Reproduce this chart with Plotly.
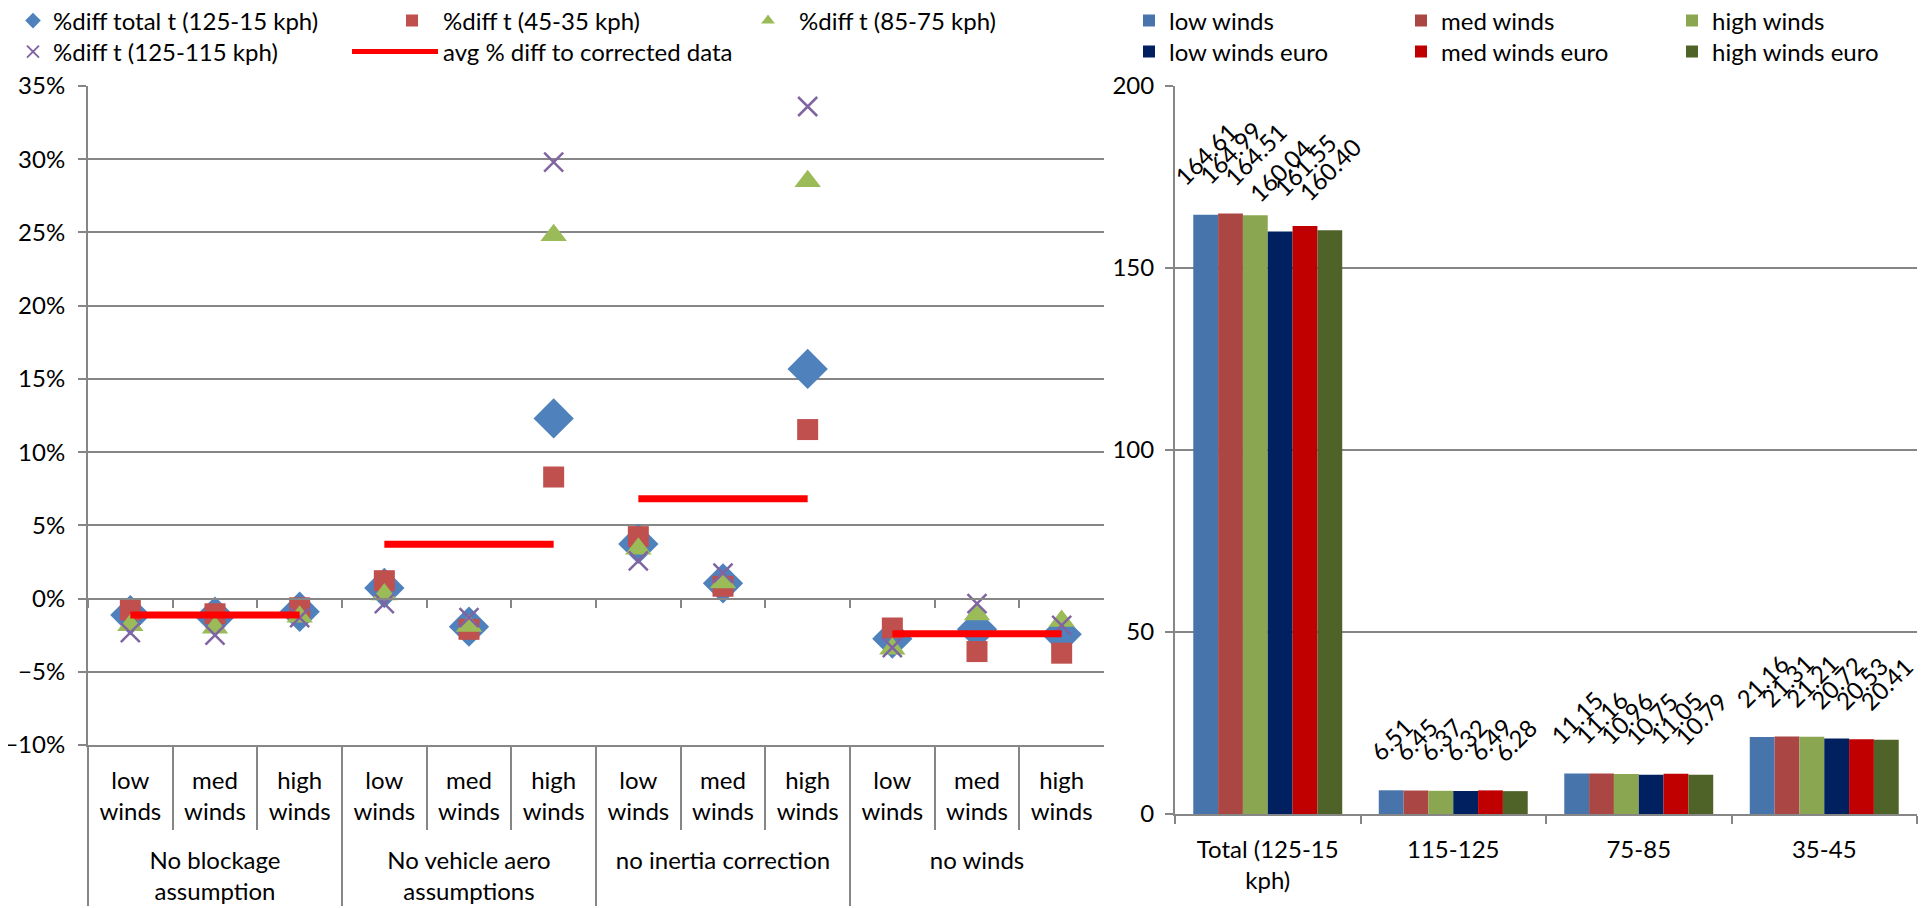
import plotly.graph_objects as go

# ---------------- data ----------------
groups = ["No blockage<br>assumption", "No vehicle aero<br>assumptions",
          "no inertia correction", "no winds"]
winds = ["low<br>winds", "med<br>winds", "high<br>winds"]

diff_total = [-1.13, -1.24, -0.90, 0.72, -1.92, 12.3, 3.73, 1.04, 15.68, -2.74, -2.10, -2.44]
diff_45_35 = [-0.79, -1.04, -0.63, 1.22, -2.10, 8.3, 4.23, 0.84, 11.54, -2.01, -3.62, -3.73]
diff_85_75 = [-1.83, -2.00, -1.24, 0.27, -1.88, 24.8, 3.40, 1.10, 28.5, -3.42, -1.09, -1.54]
diff_125_115 = [-2.33, -2.50, -1.30, -0.34, -1.31, 29.8, 2.58, 1.74, 33.6, -3.35, -0.34, -1.83]
avg_diff = [-1.13, 3.71, 6.81, -2.40]

bar_cats = ["Total (125-15<br>kph)", "115-125", "75-85", "35-45"]
low_winds = [164.61, 6.51, 11.15, 21.16]
med_winds = [164.99, 6.45, 11.16, 21.31]
high_winds = [164.51, 6.37, 10.96, 21.21]
low_winds_euro = [160.04, 6.32, 10.75, 20.72]
med_winds_euro = [161.55, 6.49, 11.05, 20.53]
high_winds_euro = [160.40, 6.28, 10.79, 20.41]

# ---------------- layout helpers ----------------
W, H = 1927, 908
OFF = 8  # the page body adds an 8px margin around the figure
FONT = "Lato, 'Open Sans', sans-serif"
FS = 24
GRID = "#868686"


def fx(px):
    return (px - OFF) / W


def fy(px):
    return (H - (px - OFF)) / H


# group labels get a blank first line so that they sit lower, as in the reference
grp_labels = ["\u00a0<br>" + g for g in groups]
x_group = [g for g in grp_labels for _ in winds]
x_sub = [w for _ in grp_labels for w in winds]

# avg line: one segment per group (break with None)
line_g, line_s, line_y = [], [], []
for g, v in zip(grp_labels, avg_diff):
    for w in winds:
        line_g.append(g)
        line_s.append(w)
        line_y.append(v)
    line_g.append(g)
    line_s.append(winds[-1])
    line_y.append(None)

fig = go.Figure()

fig.add_trace(go.Scatter(
    x=[x_group, x_sub], y=diff_total, mode="markers", name="%diff total t (125-15 kph)",
    marker=dict(symbol="diamond", size=31, color="#4F81BD"), legend="legend"))
fig.add_trace(go.Scatter(
    x=[x_group, x_sub], y=diff_45_35, mode="markers", name="%diff t (45-35 kph)",
    marker=dict(symbol="square", size=21, color="#C0504D"), legend="legend2"))
fig.add_trace(go.Scatter(
    x=[x_group, x_sub], y=diff_85_75, mode="markers", name="%diff t (85-75 kph)",
    marker=dict(symbol="triangle-up", size=23, color="#9BBB59"), legend="legend3"))
fig.add_trace(go.Scatter(
    x=[x_group, x_sub], y=diff_125_115, mode="markers", name="%diff t (125-115 kph)",
    marker=dict(symbol="x-thin", size=19, color="#8064A2",
                line=dict(color="#8064A2", width=2.5)), legend="legend4"))
fig.add_trace(go.Scatter(
    x=[line_g, line_s], y=line_y, mode="lines", name="avg % diff to corrected data",
    line=dict(color="#FF0000", width=7), connectgaps=False, legend="legend5"))
# invisible helper trace carrying the zero-level category axis
fig.add_trace(go.Scatter(
    x=[x_group, x_sub], y=diff_total, mode="markers", xaxis="x3", yaxis="y",
    marker=dict(opacity=0), showlegend=False, hoverinfo="skip"))

bar_series = [
    ("low winds", low_winds, "#4874AC", "legend6"),
    ("med winds", med_winds, "#AA4744", "legend7"),
    ("high winds", high_winds, "#8BA650", "legend8"),
    ("low winds euro", low_winds_euro, "#002060", "legend9"),
    ("med winds euro", med_winds_euro, "#C00000", "legend10"),
    ("high winds euro", high_winds_euro, "#4F6228", "legend11"),
]
PAD = "\u2003\u2002"
for name, vals, col, lg in bar_series:
    fig.add_trace(go.Bar(
        x=bar_cats, y=vals, name=name, marker=dict(color=col, line=dict(width=0)),
        texttemplate=PAD + "%{y:.2f}" + PAD, textposition="outside", textangle=-45,
        textfont=dict(family=FONT, size=FS, color="black"), constraintext="none",
        cliponaxis=False, xaxis="x2", yaxis="y2", legend=lg))

# ---------------- axes ----------------
yl_range = [-10, 35]
yl_dom = [fy(745), fy(86)]
zero_pos = yl_dom[0] + (0 - yl_range[0]) / (yl_range[1] - yl_range[0]) * (yl_dom[1] - yl_dom[0])
x_range = [-0.5, len(x_sub) - 0.5]

tickfont = dict(family=FONT, size=FS, color="black")

fig.update_layout(
    width=W, height=H,
    margin=dict(l=0, r=0, t=0, b=0, autoexpand=False),
    paper_bgcolor="white", plot_bgcolor="white",
    font=dict(family=FONT, size=FS, color="black"),
    barmode="group", bargap=0.197, bargroupgap=0,
    xaxis=dict(domain=[fx(88), fx(1104)], anchor="y", type="multicategory",
               range=x_range, autorange=False,
               showline=True, linecolor=GRID, linewidth=2,
               ticks="outside", tickson="boundaries", ticklen=83,
               tickcolor=GRID, tickwidth=2, ticklabelstandoff=13,
               showdividers=True, dividercolor=GRID, dividerwidth=2,
               showgrid=False, tickfont=tickfont, automargin=False),
    xaxis3=dict(domain=[fx(88), fx(1104)], overlaying="x", anchor="free", position=zero_pos,
                range=x_range, autorange=False,
                type="multicategory", showline=True, linecolor=GRID, linewidth=2,
                ticks="outside", tickson="boundaries", ticklen=8, tickcolor=GRID, tickwidth=2,
                showticklabels=False, showdividers=False, showgrid=False, automargin=False),
    yaxis=dict(domain=yl_dom, anchor="x", range=yl_range, dtick=5, ticksuffix="%",
               showgrid=True, gridcolor=GRID, gridwidth=2, zeroline=False,
               showline=True, linecolor=GRID, linewidth=2,
               ticks="outside", ticklen=8, tickcolor=GRID, tickwidth=2,
               ticklabelstandoff=8, tickfont=tickfont, automargin=False),
    xaxis2=dict(domain=[fx(1175), fx(1917)], anchor="y2", type="category",
                showline=True, linecolor=GRID, linewidth=2,
                ticks="outside", tickson="boundaries", ticklen=8, tickcolor=GRID, tickwidth=2,
                ticklabelstandoff=13,
                showgrid=False, tickfont=tickfont, automargin=False),
    yaxis2=dict(domain=[fy(814), fy(86)], anchor="x2", range=[0, 200], dtick=50,
                showgrid=True, gridcolor=GRID, gridwidth=2, zeroline=False,
                showline=True, linecolor=GRID, linewidth=2,
                ticks="outside", ticklen=8, tickcolor=GRID, tickwidth=2,
                ticklabelstandoff=6, tickfont=tickfont, automargin=False),
)

legend_common = dict(orientation="v", xanchor="left", yanchor="middle",
                     bgcolor="rgba(0,0,0,0)", borderwidth=0, itemsizing="constant",
                     font=dict(family=FONT, size=FS, color="black"))
# (legend name, text start x in px, row centre y in px, symbol width)
legend_pos = [
    ("legend", 55, 21, 30), ("legend2", 445, 21, 52), ("legend3", 801, 21, 52),
    ("legend4", 55, 52, 30), ("legend5", 445, 52, 86),
    ("legend6", 1171, 21, 30), ("legend7", 1443, 21, 30), ("legend8", 1714, 21, 30),
    ("legend9", 1171, 52, 30), ("legend10", 1443, 52, 30), ("legend11", 1714, 52, 30),
]
fig.update_layout(**{
    name: dict(x=fx(tx - iw - 12), y=fy(cy), itemwidth=iw, **legend_common)
    for name, tx, cy, iw in legend_pos
})

fig.write_html("out.html")
